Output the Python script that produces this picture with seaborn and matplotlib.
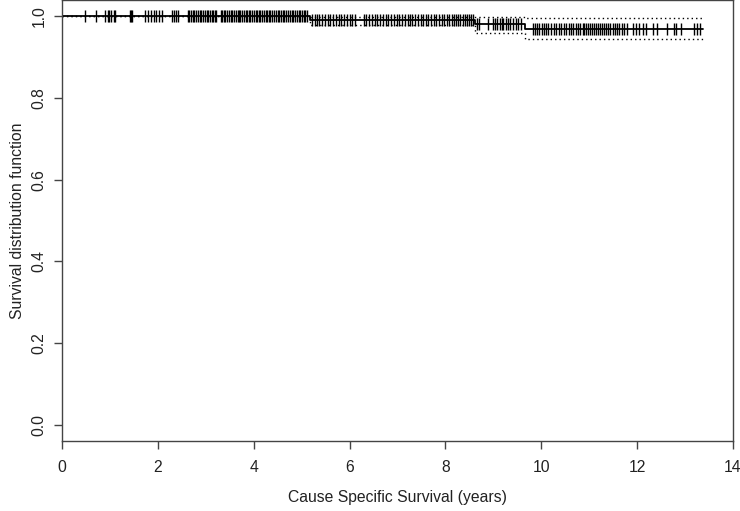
import numpy as np
import pandas as pd
import seaborn as sns
import matplotlib.pyplot as plt

# Kaplan-Meier step curve (time in years)
step_times = [0.0, 5.17, 8.62, 9.65, 13.37]
step_surv = [1.0, 0.991, 0.982, 0.969, 0.969]
step_upper = [1.0, 0.998, 0.998, 0.997, 0.997]
step_lower = [1.0, 0.980, 0.960, 0.944, 0.944]

# censoring marks
censor_early = [0.49, 0.70, 0.90, 0.95, 0.99, 1.03, 1.09, 1.11, 1.42, 1.44, 1.47,
                1.74, 1.80, 1.85, 1.91, 1.96, 2.02, 2.09, 2.30, 2.34, 2.38, 2.43]
censor_mid1 = [2.63, 2.66, 2.70, 2.73, 2.76, 2.80, 2.84, 2.87, 2.91, 2.95, 2.98, 3.02,
               3.05, 3.08, 3.12, 3.15, 3.19, 3.22, 3.31, 3.34, 3.37, 3.41, 3.45, 3.48,
               3.52, 3.55, 3.58, 3.62, 3.67, 3.69, 3.72, 3.76, 3.79, 3.83, 3.86, 3.90,
               3.93, 3.97, 4.00, 4.04, 4.07, 4.11, 4.14, 4.18, 4.21, 4.25, 4.28, 4.32,
               4.35, 4.39, 4.42, 4.46, 4.50, 4.53, 4.57, 4.61, 4.64, 4.68, 4.71, 4.75,
               4.79, 4.83, 4.86, 4.90, 4.94, 4.97, 5.01, 5.04, 5.08, 5.12]
censor_mid2 = [5.22, 5.27, 5.31, 5.36, 5.42, 5.48, 5.55, 5.60, 5.66, 5.72, 5.77, 5.83,
               5.88, 5.95, 6.01, 6.06, 6.12, 6.30, 6.35, 6.41, 6.46, 6.53, 6.58, 6.64,
               6.70, 6.75, 6.81, 6.87, 6.92, 6.98, 7.04, 7.09, 7.15, 7.21, 7.26, 7.31,
               7.37, 7.43, 7.48, 7.53, 7.59, 7.64, 7.70, 7.76, 7.81, 7.87, 7.92, 7.98,
               8.03, 8.08, 8.13, 8.18, 8.22, 8.27, 8.31, 8.36, 8.41, 8.45, 8.50, 8.54, 8.58]
censor_late1 = [8.66, 8.71, 8.88, 9.00, 9.04, 9.08, 9.13, 9.17, 9.21, 9.26, 9.30,
                9.35, 9.42, 9.47, 9.52, 9.57]
censor_late2 = [9.82, 9.87, 9.92, 9.96, 10.01, 10.06, 10.10, 10.15, 10.21, 10.26, 10.31,
                10.36, 10.42, 10.47, 10.52, 10.57, 10.62, 10.67, 10.72, 10.77, 10.81,
                10.86, 10.90, 10.94, 10.98, 11.02, 11.06, 11.10, 11.14, 11.19, 11.23,
                11.27, 11.31, 11.36, 11.40, 11.44, 11.49, 11.53, 11.58, 11.63, 11.68,
                11.73, 11.79, 11.92, 11.98, 12.04, 12.12, 12.18, 12.33, 12.42, 12.62,
                12.76, 12.82, 12.91, 13.18, 13.25, 13.31]

sns.set_style("white")
plt.rcParams['font.family'] = ['Liberation Sans', 'DejaVu Sans']

fig = plt.figure(figsize=(7.4, 5.11), dpi=100)
ax = fig.add_axes([62 / 740, 70 / 511, 671 / 740, 441 / 511])

curve = pd.DataFrame({'time': step_times, 'surv': step_surv,
                      'upper': step_upper, 'lower': step_lower})

# confidence limits (dotted)
for col in ['upper', 'lower']:
    sns.lineplot(data=curve, x='time', y=col, drawstyle='steps-post', color='black',
                 linestyle=(0, (1, 2.2)), linewidth=1, estimator=None, sort=False, ax=ax)

# survival curve
sns.lineplot(data=curve, x='time', y='surv', drawstyle='steps-post', color='black',
             linewidth=1.3, estimator=None, sort=False, ax=ax)

# censoring ticks sit on the curve
censor_times = censor_early + censor_mid1 + censor_mid2 + censor_late1 + censor_late2
idx = np.searchsorted(step_times, censor_times, side='right') - 1
censored = pd.DataFrame({'time': censor_times, 'surv': np.array(step_surv)[idx]})
sns.scatterplot(data=censored, x='time', y='surv', marker='|', s=80, color='black',
                linewidth=1.0, ax=ax)

ax.set_xlim(0, 14)
ax.set_ylim(-0.04, 1.04)
ax.set_xticks([0, 2, 4, 6, 8, 10, 12, 14])
ax.set_yticks([0.0, 0.2, 0.4, 0.6, 0.8, 1.0])
ax.set_yticklabels(['0.0', '0.2', '0.4', '0.6', '0.8', '1.0'], rotation=90, va='center')

for sp in ax.spines.values():
    sp.set_color('#444444')
    sp.set_linewidth(1)
ax.tick_params(bottom=True, left=True, direction='out', length=6, width=1,
               color='#444444', labelsize=11.3, labelcolor='#222222')
ax.tick_params(axis='x', pad=8)
ax.tick_params(axis='y', pad=5)

ax.set_xlabel("Cause Specific Survival (years)", fontsize=11.3, color='#222222')
ax.set_ylabel("Survival distribution function", fontsize=11.3, color='#222222')
ax.xaxis.set_label_coords(0.5, -0.127)
ax.xaxis.label.set_va('center')
ax.yaxis.set_label_coords(-0.066, 0.5)
ax.yaxis.label.set_va('center')

fig.savefig("out.png", dpi=100)
